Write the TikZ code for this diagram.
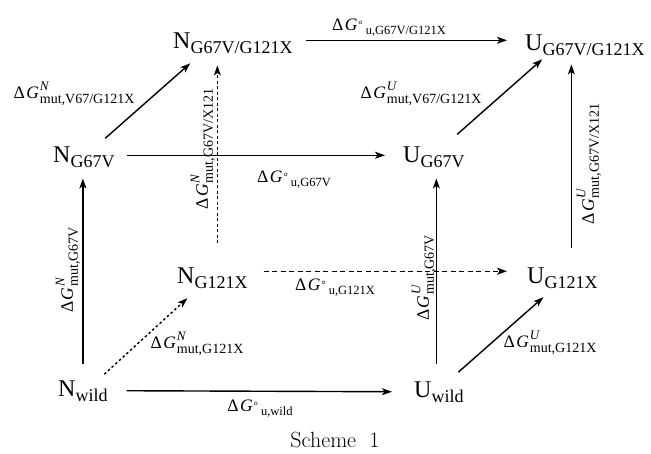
\documentclass[tikz,border=0pt]{standalone}
\usepackage{fontspec}
\setmainfont{Liberation Serif}
\newfontfamily\lmfont{Latin Modern Roman}
\usetikzlibrary{arrows.meta,calc}
\newcommand\st[2]{{\fontsize{24}{24}\selectfont #1}\raisebox{-5pt}{\fontsize{18}{18}\selectfont #2}}
\newcommand\dGm[2]{{\fontsize{17.5}{17.5}\selectfont Δ\kern1.5pt\textit{G}}\kern1pt\rlap{\raisebox{8.5pt}{\fontsize{13}{13}\selectfont\textit{#1}}}\raisebox{-5pt}{\fontsize{14}{14}\selectfont mut,#2}}
\newcommand\dGu[1]{{\fontsize{17.5}{17.5}\selectfont Δ\kern1.5pt\textit{G}}\kern1pt\raisebox{2pt}{\fontsize{11}{11}\selectfont °}\kern3pt\raisebox{-4pt}{\fontsize{12.5}{12.5}\selectfont u,#1}}
\tikzset{
  st/.style={inner sep=0pt, anchor=base west},
  lab/.style={inner sep=0pt},
  conn/.style={line width=1.4pt, -{Stealth[length=10pt,width=7pt,inset=2.5pt]}},
  dotc/.style={conn, dash pattern=on 2.5pt off 2.5pt},
  dashc/.style={conn, dash pattern=on 5pt off 3.5pt},
  vdotc/.style={conn, dash pattern=on 3pt off 2.5pt},
}
\begin{document}
\begin{tikzpicture}[x=1pt,y=-1pt]
\useasboundingbox (0,0) rectangle (651,453);
% states
\node[st] (ngg) at (173,48) {\st{N}{G67V/G121X}};
\node[st] (ugg) at (525,50) {\st{U}{G67V/G121X}};
\node[st] (ng) at (53,162) {\st{N}{G67V}};
\node[st] (ug) at (403,162) {\st{U}{G67V}};
\node[st] (nx) at (177,283) {\st{N}{G121X}};
\node[st] (ux) at (527,283) {\st{U}{G121X}};
\node[st] (nw) at (58,396) {\st{N}{wild}};
\node[st] (uw) at (414,397) {\st{U}{wild}};
% connectors
\draw[conn] ([xshift=19pt]nw.east) -- ([xshift=-22pt]uw.west);
\draw[conn] ([yshift=16pt]nw.north) -- ([yshift=-11pt]nw.north |- ng.south);
\draw[dotc] ($(nw)+(21.4,-16.5)$) -- ($(nx)+(-25,20.5)$);
\draw[conn] ([xshift=-2.5pt,yshift=17pt]uw.north) -- ([xshift=-2.5pt,yshift=-11pt]uw.north |- ug.south);
\draw[conn] ($(uw)+(19.4,-19.5)$) -- ($(ux)+(-19,19.5)$);
\draw[dashc] ([shift={(16pt,6.5pt)}]nx.east) -- ([shift={(-20pt,6.5pt)}]nx.east -| ux.west);
\draw[conn] ([shift={(12pt,1.5pt)}]ng.east) -- ([shift={(-18pt,1.5pt)}]ng.east -| ug.west);
\draw[conn] ($(ng)+(21.4,-18.5)$) -- ($(ngg)+(-42.6,20.5)$);
\draw[conn] ($(ug)+(23.4,-22.5)$) -- ($(ugg)+(-42.6,14.5)$);
\draw[conn] ([shift={(13pt,2.5pt)}]ngg.east) -- ([shift={(-18pt,2.5pt)}]ngg.east -| ugg.west);
\draw[conn] ([shift={(9pt,19pt)}]ux.north) -- ([shift={(9pt,-9pt)}]ux.north |- ugg.south);
\draw[vdotc] ([shift={(5pt,24pt)}]nx.north) -- ([shift={(5pt,-12pt)}]nx.north |- ngg.south);
% labels
\node[lab] (l1) at (260,409) {\dGu{wild}};
\node[lab, rotate=90] (l2) at (68,270) {\dGm{N}{G67V}};
\node[lab] (l3) at (197,344) {\dGm{N}{G121X}};
\node[lab, rotate=90] (l4) at (424,278) {\dGm{U}{G67V}};
\node[lab] (l5) at (550,343) {\dGm{U}{G121X}};
\node[lab] (l6) at (335,288) {\dGu{G121X}};
\node[lab] (l7) at (294,180) {\dGu{G67V}};
\node[lab] (l8) at (74,94) {\dGm{N}{V67/G121X}};
\node[lab] (l9) at (421,94) {\dGm{U}{V67/G121X}};
\node[lab] (l10) at (389,28) {\dGu{G67V/G121X}};
\node[lab, rotate=90] (l11) at (589,164) {\dGm{U}{G67V/X121}};
\node[lab, rotate=90] (l12) at (203,149) {\dGm{N}{G67V/X121}};
\node[lab] (cap) at (335,440) {\lmfont\fontsize{22}{22}\selectfont Scheme~~1};
\end{tikzpicture}
\end{document}
